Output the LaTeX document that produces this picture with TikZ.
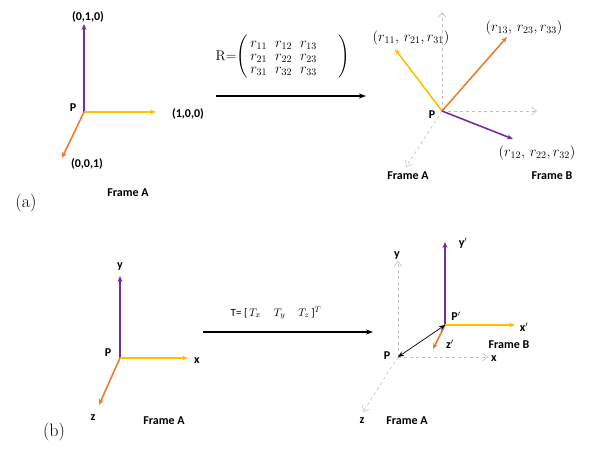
\documentclass[tikz,border=0pt]{standalone}
\usepackage{amsmath}
\usepackage{fontspec}
\setsansfont{Carlito}
\usetikzlibrary{arrows.meta}
\definecolor{cpurple}{HTML}{7030A0}
\definecolor{cyellow}{HTML}{FFC000}
\definecolor{corange}{HTML}{ED7D31}
\definecolor{cgrey}{HTML}{BFBFBF}
\tikzset{
  ax/.style={line width=1.6pt,-{Stealth[length=6pt,width=5pt]}},
  gax/.style={cgrey,dashed,line width=0.6pt,-{Straight Barb[length=5pt,width=8pt]}},
  lbl/.style={font=\sffamily\bfseries\fontsize{12}{13}\selectfont,inner sep=0pt},
  mlbl/.style={font=\fontsize{14}{15}\selectfont,inner sep=0pt},
  big/.style={line width=1.6pt,-{Stealth[length=7pt,width=5pt]}},
}
\begin{document}
\begin{tikzpicture}[x=1pt,y=-1pt]
\useasboundingbox (0,0) rectangle (589,455);
% ---------- (a) left ----------
\coordinate (Pa) at (84,112);
\coordinate (Ya) at (84,24);
\coordinate (Xa) at (156,112);
\coordinate (Za) at (62,158);
\draw[ax,cpurple] (Pa) -- (Ya);
\draw[ax,cyellow] (Pa) -- (Xa);
\draw[ax,corange] (Pa) -- (Za);
\node[lbl] (pa) at (73,108) {P};
\node[lbl] (ya) at (88,17) {(0,1,0)};
\node[lbl] (xa) at (188,114) {(1,0,0)};
\node[lbl] (za) at (87,164) {(0,0,1)};
\node[lbl] (fa1) at (128,193) {Frame A};
\node[font=\fontsize{18}{19}\selectfont,inner sep=0pt] (la) at (26,203) {(a)};
% transform arrow
\coordinate (Ra1) at (216,96);
\coordinate (Ra2) at (366,96);
\draw[big] (Ra1) -- (Ra2);
\node[font=\fontsize{14}{15}\selectfont,inner sep=0pt] (Rm) at (283,57) {R=$\left(\begin{array}{@{\,}c@{\hspace{8pt}}c@{\hspace{8pt}}c@{\hspace{22pt}}}r_{11}&r_{12}&r_{13}\\[-2pt]r_{21}&r_{22}&r_{23}\\[-2pt]r_{31}&r_{32}&r_{33}\end{array}\right)$};
% ---------- (a) right ----------
\coordinate (Pb) at (442,111);
\coordinate (gYb) at (442,12);
\coordinate (gXb) at (537,111);
\coordinate (gZb) at (406,167);
\draw[gax] (Pb) -- (gYb);
\draw[gax] (Pb) -- (gXb);
\draw[gax] (Pb) -- (gZb);
\coordinate (r1) at (395,49);
\coordinate (r3) at (507,37);
\coordinate (r2) at (513,139);
\draw[ax,cyellow] (Pb) -- (r1);
\draw[ax,corange] (Pb) -- (r3);
\draw[ax,cpurple] (Pb) -- (r2);
\node[lbl] (pb) at (432,115) {P};
\node[mlbl] (r1l) at (411,38) {$(r_{11},\,r_{21},r_{31})$};
\node[mlbl] (r3l) at (524,28) {$(r_{13},\,r_{23},r_{33})$};
\node[mlbl] (r2l) at (537,153) {$(r_{12},\,r_{22},r_{32})$};
\node[lbl] (fa2) at (408,176) {Frame A};
\node[lbl] (fb1) at (552,176) {Frame B};
% ---------- (b) left ----------
\coordinate (Pc) at (120,358);
\coordinate (Yc) at (120,276);
\coordinate (Xc) at (188,358);
\coordinate (Zc) at (99,405);
\draw[ax,cpurple] (Pc) -- (Yc);
\draw[ax,cyellow] (Pc) -- (Xc);
\draw[ax,corange] (Pc) -- (Zc);
\node[lbl] (pc) at (108,353) {P};
\node[lbl] (yc) at (120,267) {y};
\node[lbl] (xc) at (197,361) {x};
\node[lbl] (zc) at (93,418) {z};
\node[lbl] (fa3) at (164,421) {Frame A};
\node[font=\fontsize{18}{19}\selectfont,inner sep=0pt] (lb) at (54,432) {(b)};
% transform arrow
\coordinate (T1) at (203,332);
\coordinate (T2) at (373,332);
\draw[big] (T1) -- (T2);
\node[font=\sffamily\fontsize{11}{12}\selectfont,inner sep=0pt] (Tl) at (276,313) {T= [\,$\fontsize{13}{14}\selectfont T_x\quad T_y\quad T_z$\,]$^T$};
% ---------- (b) right ----------
\coordinate (Pd) at (398,357);
\coordinate (gYd) at (398,261);
\coordinate (gXd) at (488,357);
\coordinate (gZd) at (363,412);
\draw[gax] (Pd) -- (gYd);
\draw[gax] (Pd) -- (gXd);
\draw[gax] (Pd) -- (gZd);
\coordinate (Pp) at (445,325);
\coordinate (Yp) at (445,242);
\coordinate (Xp) at (515,325);
\coordinate (Zp) at (433,349);
\draw[ax,cpurple] (Pp) -- (Yp);
\draw[ax,cyellow] (Pp) -- (Xp);
\draw[ax,corange] (Pp) -- (Zp);
\draw[line width=0.7pt,{Stealth[length=6pt,width=5pt]}-{Stealth[length=6pt,width=5pt]}] (Pd) -- (Pp);
\node[lbl] (pd) at (387,356) {P};
\node[lbl] (yd) at (397,256) {y};
\node[lbl] (xd) at (494,359) {x};
\node[lbl] (zd) at (362,421) {z};
\node[lbl] (fa4) at (407,421) {Frame A};
\node[lbl] (pp) at (456,316) {P$'$};
\node[lbl] (yp) at (463,243) {y$'$};
\node[lbl] (xp) at (524,327) {x$'$};
\node[lbl] (zp) at (450,344) {z$'$};
\node[lbl] (fb2) at (509,345) {Frame B};
\end{tikzpicture}
\end{document}
